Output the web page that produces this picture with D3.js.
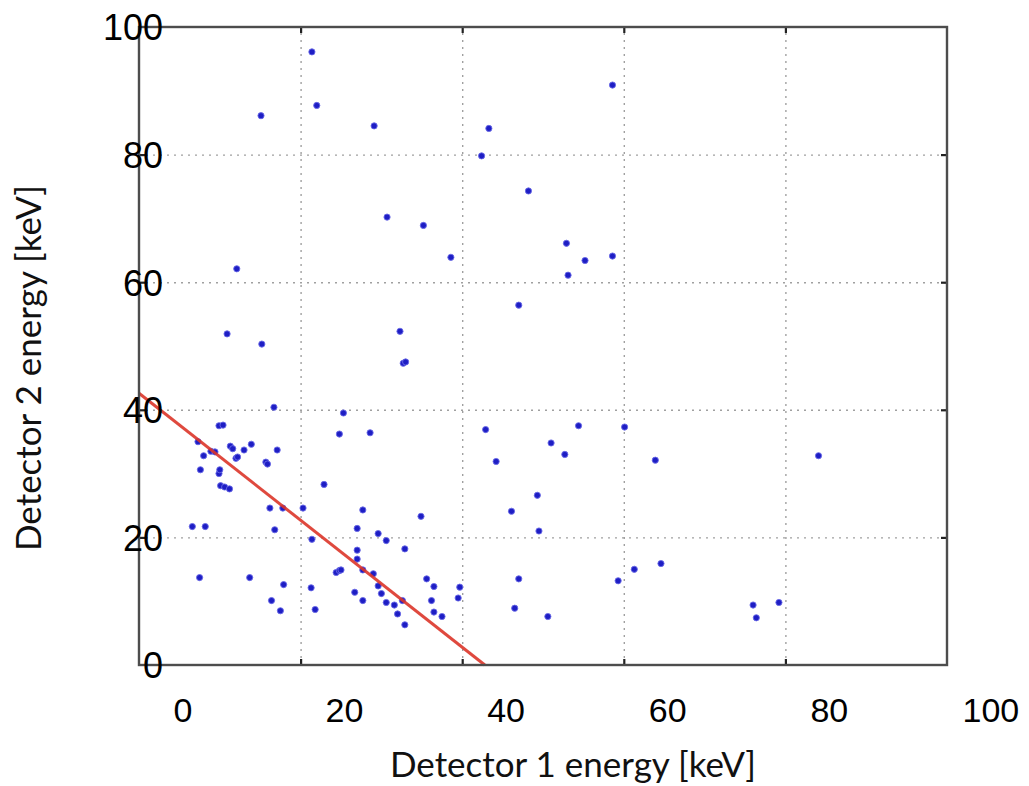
<!DOCTYPE html>
<html>
<head>
<meta charset="utf-8">
<script src="https://cdn.jsdelivr.net/npm/d3@7"></script>
<style>
    body { margin: 0; background: white; }
</style>
</head>
<body>
<svg id="scatter-svg"></svg>
<script>
// detector 1 energy (keV) of each coincidence event
const energy1 = [
    16.4, 17.0, 10.1, 24.1, 25.7, 30.2, 7.1, 5.9, 27.3, 53.6,
    38.3, 37.4, 43.2, 47.9, 33.6, 50.2, 53.6, 48.1, 42.0, 10.2,
    27.7, 28.0, 11.7, 20.3, 4.9, 5.4, 19.8, 23.6, 2.3, 6.3,
    6.6, 3.9, 4.4, 8.9, 8.0, 12.1, 3.0, 7.0, 7.2, 10.7,
    10.9, 2.6, 4.9, 5.0, 5.1, 5.6, 6.2, 17.9, 11.2, 12.8,
    15.3, 22.7, 29.9, 1.6, 3.2, 11.8, 22.0, 16.4, 24.6, 25.6,
    27.9, 22.0, 22.0, 19.4, 19.8, 20.0, 22.7, 24.0, 2.5, 8.7,
    30.6, 24.6, 31.5, 12.9, 16.3, 21.7, 25.0, 11.4, 22.7, 25.6,
    26.6, 27.6, 31.2, 12.5, 16.8, 27.0, 31.5, 27.9, 37.9, 49.4,
    55.1, 46.0, 39.2, 47.7, 58.9, 79.1, 44.3, 41.1, 44.5, 56.3,
    59.6, 42.0, 54.3, 34.7, 34.5, 32.5, 41.5, 45.6, 71.0, 71.4,
    74.2
];

// detector 2 energy (keV) of the same events
const energy2 = [
    96.1, 87.7, 86.1, 84.5, 70.2, 68.9, 62.1, 51.9, 52.3, 90.9,
    84.1, 79.8, 74.3, 66.1, 63.9, 63.4, 64.1, 61.1, 56.4, 50.3,
    47.3, 47.5, 40.4, 39.5, 37.5, 37.6, 36.2, 36.4, 35.0, 34.3,
    33.9, 33.5, 33.4, 34.6, 33.7, 33.7, 32.8, 32.4, 32.6, 31.8,
    31.5, 30.6, 30.0, 30.6, 28.1, 27.9, 27.6, 28.3, 24.6, 24.6,
    24.6, 24.3, 23.3, 21.7, 21.7, 21.2, 21.4, 19.7, 20.6, 19.5,
    18.2, 18.0, 16.6, 14.5, 14.8, 14.9, 14.9, 14.3, 13.7, 13.7,
    13.5, 12.4, 12.3, 12.6, 12.1, 11.4, 11.2, 10.1, 10.1, 9.8,
    9.4, 10.1, 10.1, 8.5, 8.7, 8.0, 8.3, 6.3, 36.9, 37.5,
    37.3, 34.8, 31.9, 33.0, 32.1, 32.8, 26.6, 24.1, 21.0, 15.0,
    15.9, 13.5, 13.2, 12.2, 10.5, 7.6, 8.9, 7.6, 9.4, 7.4,
    9.8
];

// red cut line (E1 + E2 = const)
const cutE1 = [-5, 37.8];
const cutE2 = [42.6, 0];

// tick values
const xGridTicks = [15, 35, 55, 75];
const yGridTicks = [20, 40, 60, 80];
const xLabelTicks = [0, 20, 40, 60, 80, 100];
const yLabelTicks = [0, 20, 40, 60, 80, 100];

const xTitle = "Detector 1 energy [keV]";
const yTitle = "Detector 2 energy [keV]";

const width = 1029;
const height = 786;
const margin = { top: 27, right: 82, bottom: 121, left: 139 };
const innerW = width - margin.left - margin.right;
const innerH = height - margin.top - margin.bottom;

const svg = d3.select("#scatter-svg")
    .attr("width", width)
    .attr("height", height)
    .style("background", "white");

const g = svg.append("g")
    .attr("transform", `translate(${margin.left},${margin.top})`);

const xScale = d3.scaleLinear()
    .domain([-5, 95])
    .range([0, innerW]);

const yScale = d3.scaleLinear()
    .domain([0, 100])
    .range([innerH, 0]);

//dotted grid
const xGrid = d3.axisBottom(xScale)
    .tickValues(xGridTicks)
    .tickSize(-innerH)
    .tickFormat("");

const xGridGroup = g.append("g")
    .attr("transform", `translate(0,${innerH})`);
xGrid(xGridGroup);

const yGrid = d3.axisLeft(yScale)
    .tickValues(yGridTicks)
    .tickSize(-innerW)
    .tickFormat("");

const yGridGroup = g.append("g");
yGrid(yGridGroup);

[xGridGroup, yGridGroup].forEach(grp => {
    grp.select(".domain").remove();
    grp.selectAll("line")
        .style("stroke", "#a0a0a0")
        .style("stroke-width", 1.4)
        .style("stroke-dasharray", "2,5");
});

//small inward ticks on all four sides
const tickLen = 6;
const innerTicks = [
    { axis: d3.axisBottom(xScale).tickValues(xGridTicks), t: `translate(0,${innerH})` },
    { axis: d3.axisTop(xScale).tickValues(xGridTicks), t: "translate(0,0)" },
    { axis: d3.axisLeft(yScale).tickValues(yGridTicks), t: "translate(0,0)" },
    { axis: d3.axisRight(yScale).tickValues(yGridTicks), t: `translate(${innerW},0)` }
];
innerTicks.forEach(d => {
    const grp = g.append("g").attr("transform", d.t);
    d.axis.tickSize(-tickLen).tickFormat("")(grp);
    grp.select(".domain").remove();
    grp.selectAll("line")
        .style("stroke", "#222")
        .style("stroke-width", 2.2);
});

//points
const points = energy1.map((e1, i) => ({ e1: e1, e2: energy2[i] }));

g.selectAll("circle.event")
    .data(points)
    .enter()
    .append("circle")
    .attr("class", "event")
    .attr("cx", d => xScale(d.e1))
    .attr("cy", d => yScale(d.e2))
    .attr("r", 3.1)
    .style("fill", "#1e1ec4")
    .style("stroke", "#6a6ae6")
    .style("stroke-width", 0.9);

//cut line
const cutData = cutE1.map((e1, i) => [e1, cutE2[i]]);

g.append("path")
    .datum(cutData)
    .attr("d", d3.line()
        .x(d => xScale(d[0]))
        .y(d => yScale(d[1])))
    .style("fill", "none")
    .style("stroke", "#dc3529")
    .style("stroke-width", 3)
    .style("opacity", 0.9);

//frame
g.append("rect")
    .attr("x", 0)
    .attr("y", 0)
    .attr("width", innerW)
    .attr("height", innerH)
    .style("fill", "none")
    .style("stroke", "#4d4d4d")
    .style("stroke-width", 2.4);

//tick labels (drawn over the frame)
const xLabelAxis = d3.axisBottom(xScale)
    .tickValues(xLabelTicks)
    .tickSize(0)
    .tickFormat(d3.format("d"));

const xLabelGroup = g.append("g")
    .attr("transform", `translate(3,${innerH})`);
xLabelAxis(xLabelGroup);
xLabelGroup.select(".domain").remove();
xLabelGroup.selectAll("text")
    .attr("y", 57)
    .attr("dy", 0)
    .style("font-family", "'Liberation Sans', Arial, sans-serif")
    .style("font-size", "34px")
    .style("fill", "#000");

const yLabelAxis = d3.axisLeft(yScale)
    .tickValues(yLabelTicks)
    .tickSize(0)
    .tickPadding(0)
    .tickFormat(d3.format("d"));

const yLabelGroup = g.append("g")
    .attr("transform", "translate(24,0)");
yLabelAxis(yLabelGroup);
yLabelGroup.select(".domain").remove();
yLabelGroup.selectAll("text")
    .attr("dy", "0.36em")
    .style("font-family", "'Liberation Sans', Arial, sans-serif")
    .style("font-size", "36px")
    .style("fill", "#000");

//axis titles
svg.append("text")
    .attr("x", 573)
    .attr("y", 777)
    .attr("text-anchor", "middle")
    .style("font-family", "Lato, 'Open Sans', sans-serif")
    .style("font-size", "35px")
    .style("fill", "#111")
    .text(xTitle);

svg.append("text")
    .attr("transform", "translate(41,368) rotate(-90)")
    .attr("text-anchor", "middle")
    .style("font-family", "Lato, 'Open Sans', sans-serif")
    .style("font-size", "35px")
    .style("fill", "#111")
    .text(yTitle);
</script>
</body>
</html>
